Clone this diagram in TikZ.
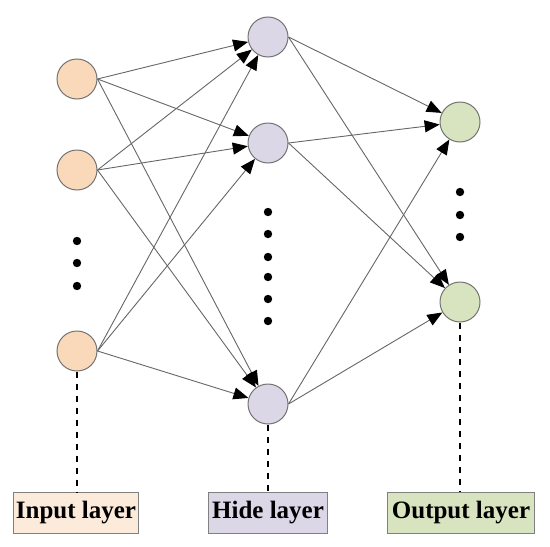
\documentclass[tikz,border=0pt]{standalone}
\usepackage{fontspec}
\setmainfont{Liberation Serif}
\usetikzlibrary{arrows.meta}

\definecolor{inputfill}{HTML}{FAD9BA}
\definecolor{hidefill}{HTML}{DCD7E7}
\definecolor{outputfill}{HTML}{D8E4BF}
\definecolor{inputbox}{HTML}{FCEADB}

\begin{document}
\begin{tikzpicture}[
  x=0.5pt, y=-0.5pt,
  neuron/.style={circle, draw=black!55, line width=0.5pt, minimum size=20pt, inner sep=0pt},
  dot/.style={circle, fill=black, minimum size=4.2pt, inner sep=0pt},
  layerbox/.style={rectangle, draw=black!50, line width=0.5pt, minimum height=20.5pt, inner sep=1pt, font=\fontsize{12.5}{14}\selectfont\bfseries},
  conn/.style={draw=black!60, line width=0.45pt, -{Triangle[length=7.5pt,width=6pt,color=black]}},
  guide/.style={draw, dashed, line width=0.6pt},
]
  \useasboundingbox (0,0) rectangle (550,546);

  % neurons
  \node[neuron, fill=inputfill] (in1) at (77,79) {};
  \node[neuron, fill=inputfill] (in2) at (77,170) {};
  \node[neuron, fill=inputfill] (in3) at (77,351) {};
  \node[neuron, fill=hidefill] (hid1) at (268,37) {};
  \node[neuron, fill=hidefill] (hid2) at (268,143) {};
  \node[neuron, fill=hidefill] (hid3) at (268,404) {};
  \node[neuron, fill=outputfill] (out1) at (460,122) {};
  \node[neuron, fill=outputfill] (out2) at (460,302) {};

  % ellipsis dots
  \foreach \y [count=\i] in {241,263,286}
    \node[dot] (indot\i) at (77,\y) {};
  \foreach \y [count=\i] in {212,234,257,277,299,321}
    \node[dot] (hiddot\i) at (268,\y) {};
  \foreach \y [count=\i] in {192,215,237}
    \node[dot] (outdot\i) at (460,\y) {};

  % connections
  \foreach \a in {1,2,3}
    \foreach \b in {1,2,3}
      \draw[conn] (in\a.east) -- (hid\b);
  \foreach \a in {1,2,3}
    \foreach \b in {1,2}
      \draw[conn] (hid\a.east) -- (out\b);

  % layer labels
  \node[layerbox, fill=inputbox, minimum width=59pt] (inlabel) at (76,513) {Input layer};
  \node[layerbox, fill=hidefill, minimum width=59.5pt] (hidlabel) at (268,513) {Hide layer};
  \node[layerbox, fill=outputfill, minimum width=73.5pt] (outlabel) at (461,513) {Output layer};

  \draw[guide] (in3.south) -- (in3.south |- inlabel.north);
  \draw[guide] (hid3.south) -- (hid3.south |- hidlabel.north);
  \draw[guide] (out2.south) -- (out2.south |- outlabel.north);
\end{tikzpicture}
\end{document}
